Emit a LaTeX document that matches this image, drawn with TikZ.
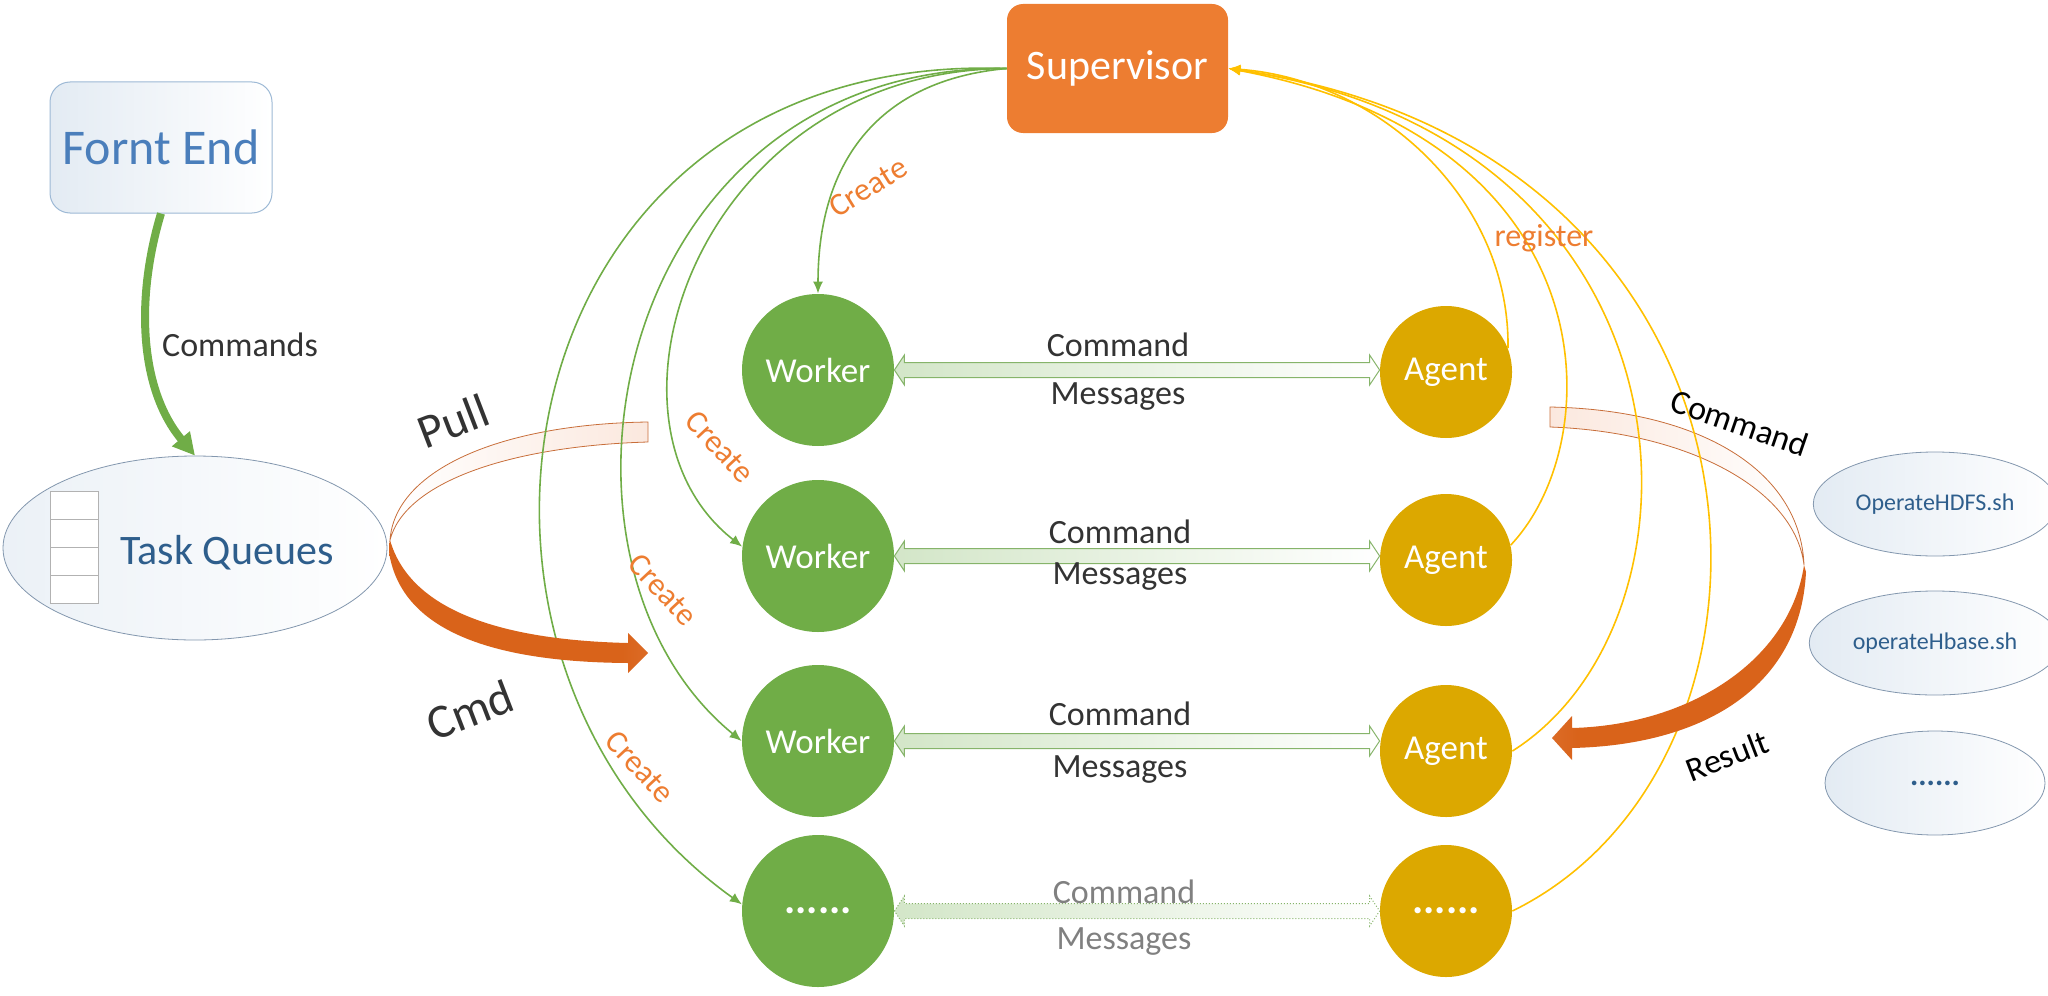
\documentclass[tikz,border=0pt]{standalone}
\usepackage{fontspec}
\setmainfont{Carlito}
\usetikzlibrary{arrows.meta,calc,shapes.geometric}

\definecolor{wgreen}{HTML}{70AD47}
\definecolor{agold}{HTML}{DCA800}
\definecolor{sorange}{HTML}{ED7D31}
\definecolor{ylw}{HTML}{FFC000}
\definecolor{txtdark}{HTML}{333333}
\definecolor{feblue}{HTML}{4A7EBB}
\definecolor{tqblue}{HTML}{2E5E8C}
\definecolor{bandedge}{HTML}{C86E3A}
\definecolor{bandfill}{HTML}{FBE8DE}
\definecolor{arrorange}{HTML}{D9631A}
\definecolor{arrlight}{HTML}{E89464}
\definecolor{dblfill}{HTML}{D3E6C8}
\definecolor{dbledge}{HTML}{86B46A}
\definecolor{ellfill}{HTML}{E3EBF3}
\definecolor{elledge}{HTML}{8397AE}
\definecolor{feedge}{HTML}{9DB9D5}

\pgfdeclarehorizontalshading{orarrowL}{100bp}{color(0bp)=(arrorange); color(70bp)=(arrorange); color(100bp)=(arrlight)}
\pgfdeclarehorizontalshading{orarrowR}{100bp}{color(0bp)=(arrlight); color(30bp)=(arrorange); color(100bp)=(arrorange)}

\newcommand{\dblarr}[3]{%
  \path[dblarrow,#3] let \p1=(#1.east), \p2=(#2.west) in
   (\x1,\y1) -- ({\x1+5pt},{\y1+7.5pt}) -- ({\x1+5pt},{\y1+3.75pt})
   -- ({\x2-5pt},{\y1+3.75pt}) -- ({\x2-5pt},{\y1+7.5pt}) -- (\x2,\y1)
   -- ({\x2-5pt},{\y1-7.5pt}) -- ({\x2-5pt},{\y1-3.75pt})
   -- ({\x1+5pt},{\y1-3.75pt}) -- ({\x1+5pt},{\y1-7.5pt}) -- cycle;}

\begin{document}
\begin{tikzpicture}[x=0.5pt,y=-0.5pt,
  worker/.style={circle, fill=wgreen, minimum size=76pt, inner sep=0pt, text=white, font=\fontsize{17.5}{21}\selectfont},
  agent/.style={circle, fill=agold, minimum size=66pt, inner sep=0pt, text=white, font=\fontsize{17.5}{21}\selectfont},
  dots/.style={font=\bfseries\fontsize{21}{24}\selectfont},
  greenline/.style={draw=wgreen, line width=0.8pt, -{Latex[length=6pt,width=5pt]}},
  ylwline/.style={draw=ylw, line width=0.8pt, -{Latex[length=6pt,width=5pt]}},
  createlbl/.style={text=sorange, font=\fontsize{16}{19}\selectfont, inner sep=0pt},
  cmdlbl/.style={text=txtdark, font=\fontsize{17}{20}\selectfont, inner sep=0pt},
  dimlbl/.style={text=gray, font=\fontsize{17}{20}\selectfont, inner sep=0pt},
  biglbl/.style={text=txtdark, font=\fontsize{24}{28}\selectfont, inner sep=0pt},
  blacklbl/.style={text=black, font=\fontsize{17}{20}\selectfont, inner sep=0pt},
  scriptell/.style={ellipse, minimum width=110pt, minimum height=52pt, draw=elledge, line width=0.4pt, left color=ellfill, right color=white, text=tqblue, font=\fontsize{12}{14}\selectfont},
  dblarrow/.style={draw=dbledge, line width=0.5pt, left color=dblfill, right color=white},
  band/.style={draw=bandedge, line width=0.4pt},
  qcell/.style={draw=gray!60, fill=white, line width=0.5pt},
]
\useasboundingbox (0,0) rectangle (2048,995);

% ---- ribbon bands (below lines)
\shadedraw[band, left color=white, right color=bandfill]
  (648,422) .. controls (500,424) and (395,470) .. (390,540)
  .. controls (405,482) and (510,446) .. (648,442) -- cycle;
\shadedraw[band, left color=bandfill, right color=white]
  (1550,407) .. controls (1700,410) and (1800,470) .. (1804,565)
  .. controls (1795,490) and (1690,432) .. (1550,427) -- cycle;

% ---- nodes
\node[rectangle, rounded corners=10pt, minimum width=111pt, minimum height=65.5pt,
      draw=feedge, line width=0.5pt, left color=ellfill, right color=white,
      text=feblue, font=\fontsize{25}{30}\selectfont] (fe) at (161,147.5) {Fornt End};

\node[ellipse, minimum width=192pt, minimum height=92pt, draw=elledge, line width=0.4pt,
      left color=ellfill!70, right color=white] (tq) at (195,548) {};
\draw[qcell] (50,491) rectangle (98,519);
\draw[qcell] (50,519) rectangle (98,547);
\draw[qcell] (50,547) rectangle (98,575);
\draw[qcell] (50,575) rectangle (98,603);
\node[text=tqblue, font=\fontsize{21}{25}\selectfont, inner sep=0pt] (tqtext) at (227,553) {Task Queues};

\node[rectangle, rounded corners=8pt, minimum width=110.5pt, minimum height=64.5pt,
      fill=sorange, text=white, font=\fontsize{21}{25}\selectfont] (sup) at (1117.5,68.5) {Supervisor};

\node[worker] (w1) at (818,370) {Worker};
\node[worker] (w2) at (818,556) {Worker};
\node[worker] (w3) at (818,741) {Worker};
\node[worker, dots] (w4) at (818,911) {......};

\node[agent] (a1) at (1446,372) {Agent};
\node[agent] (a2) at (1446,560) {Agent};
\node[agent] (a3) at (1446,751) {Agent};
\node[agent, dots] (a4) at (1446,911) {......};

\node[scriptell] (s1) at (1935,504) {OperateHDFS.sh};
\node[scriptell] (s2) at (1935,643) {operateHbase.sh};
\node[scriptell, font=\bfseries\fontsize{15.5}{18}\selectfont] (s3) at (1935,783) {......};

% ---- Commands arrow
\draw[line width=4pt, draw=wgreen, -{Triangle[length=11pt,width=11pt]}]
  (fe.south) .. controls (135,300) and (140,390) .. (tq.north);
\node[cmdlbl] (cmds) at (240,345) {Commands};

% ---- worker/agent double arrows
\dblarr{w1}{a1}{}
\dblarr{w2}{a2}{}
\dblarr{w3}{a3}{}
\dblarr{w4}{a4}{densely dotted}

\node[cmdlbl] (c1) at (1118,345) {Command};
\node[cmdlbl] (m1) at (1118,397) {Messages};
\node[cmdlbl] (c2) at (1120,532) {Command};
\node[cmdlbl] (m2) at (1120,577) {Messages};
\node[cmdlbl] (c3) at (1120,714) {Command};
\node[cmdlbl] (m3) at (1120,770) {Messages};
\node[dimlbl] (c4) at (1124,892) {Command};
\node[dimlbl] (m4) at (1124,942) {Messages};

% ---- create curves
\draw[greenline] (sup.west) .. controls (880,80) and (818,160) .. (w1.north);
\draw[greenline] (sup.west) .. controls (700,70) and (580,420) .. (w2.173);
\draw[greenline] (sup.west) .. controls (610,65) and (520,560) .. (w3.west);
\draw[greenline] (sup.west) .. controls (500,50) and (400,660) .. (w4.175);

% ---- register curves
\draw[ylwline] (a1.21) .. controls (1510,200) and (1380,80) .. (sup.east);
\draw[ylwline] (a2.13) .. controls (1610,440) and (1610,140) .. (sup.east);
\draw[ylwline] (a3.east) .. controls (1720,620) and (1710,140) .. (sup.east);
\draw[ylwline] (a4.east) .. controls (1820,760) and (1800,150) .. (sup.east);

% ---- solid orange arrow parts
\shade[shading=orarrowL]
  (390,540) .. controls (410,610) and (500,640) .. (628,643) -- (628,633) -- (648,653)
  -- (628,673) -- (628,663) .. controls (480,662) and (400,625) .. (389,552) -- cycle;
\shade[shading=orarrowR]
  (1804,565) .. controls (1790,660) and (1690,725) .. (1572,728) -- (1572,716) -- (1552,738)
  -- (1572,760) -- (1572,748) .. controls (1700,745) and (1800,690) .. (1806,572) -- cycle;

% ---- labels
\node[createlbl, rotate=32] (cr1) at (868,187) {Create};
\node[createlbl, rotate=-47] (cr2) at (720,447) {Create};
\node[createlbl, rotate=-47] (cr3) at (663,590) {Create};
\node[createlbl, rotate=-47] (cr4) at (640,767) {Create};
\node[createlbl] (reg) at (1544,238) {register};
\node[biglbl, rotate=21] (pull) at (453,421) {Pull};
\node[biglbl, rotate=21] (cmd) at (470,710) {Cmd};
\node[blacklbl, rotate=-19] (cmdr) at (1740,423) {Command};
\node[blacklbl, rotate=21] (res) at (1727,756) {Result};
\end{tikzpicture}
\end{document}
